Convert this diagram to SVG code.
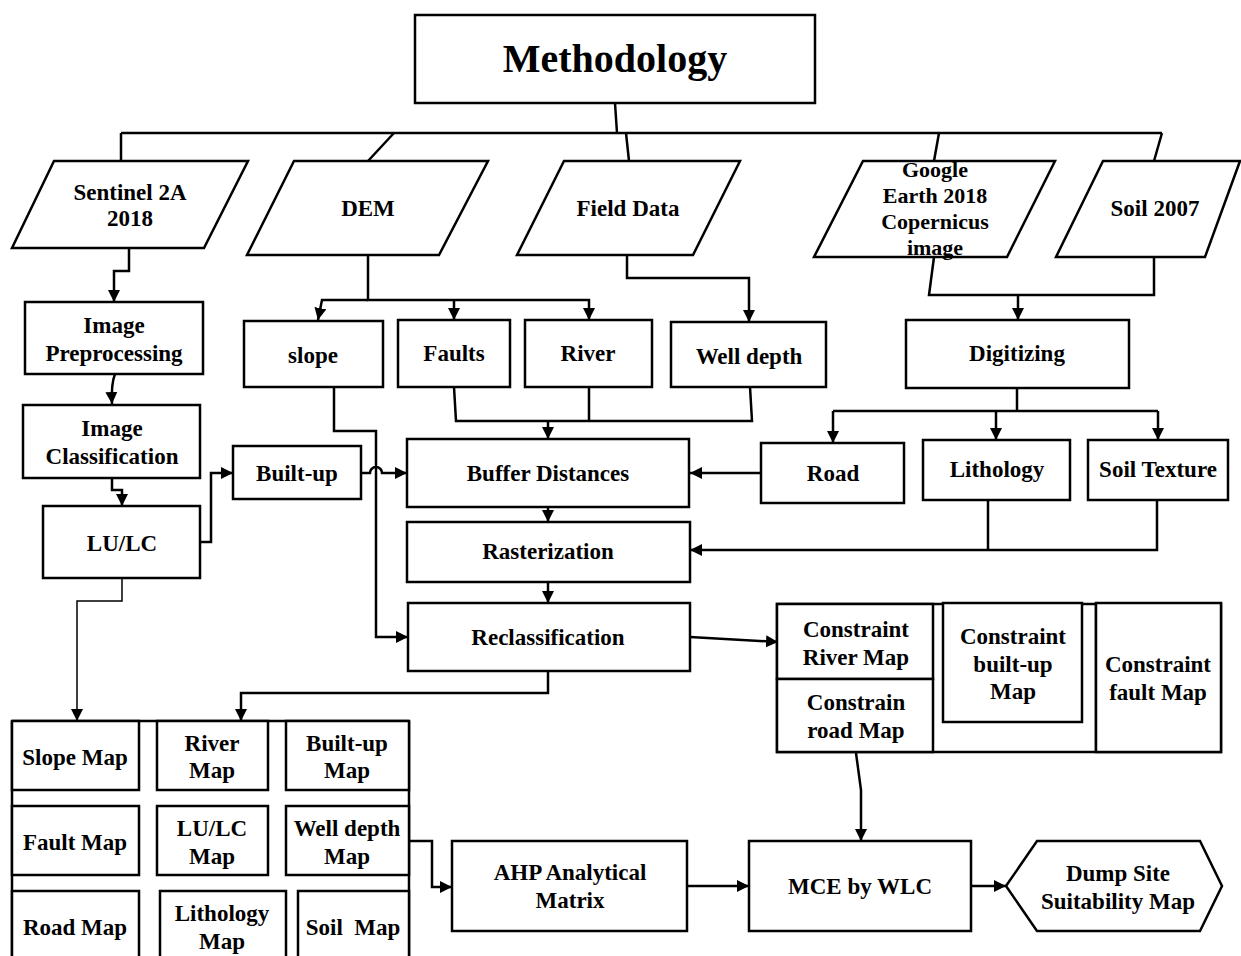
<svg xmlns="http://www.w3.org/2000/svg" width="1241" height="956" viewBox="0 0 1241 956">
<style>
.b{fill:#fff;stroke:#000;stroke-width:2.5}
.c{fill:none;stroke:#000;stroke-width:2.5}
.t{font-family:"Liberation Serif","Times New Roman",serif;font-weight:bold;font-size:23px;text-anchor:middle;fill:#000}
.s{font-size:22px}
</style>
<defs>
<marker id="a" markerWidth="13" markerHeight="13" refX="12" refY="6" orient="auto" markerUnits="userSpaceOnUse">
<path d="M0,0 L12,6 L0,12 z" fill="#000"/>
</marker>
</defs>
<rect width="1241" height="956" fill="#fff"/>
<g id="connectors">
<path class="c" d="M615,103 L617,133 M121,133 H1162 M121,133 V161 M394,133 L368,161 M626,133 L629,161 M939,133 L934,161 M1162,133 L1154,161"/>
<path class="c" d="M129,248 V271 H114 V302" marker-end="url(#a)"/>
<path class="c" d="M115,374 Q111,384 112,404" marker-end="url(#a)"/>
<path class="c" d="M112,478 V490 H122 V506" marker-end="url(#a)"/>
<path class="c" d="M200,542 H211 V473 H233" marker-end="url(#a)"/>
<path class="c" d="M361,473 H370 A6,6 0 0 1 382,473 H407" marker-end="url(#a)"/>
<path class="c" d="M368,255 V300 H589 V320" marker-end="url(#a)"/>
<path class="c" d="M368,300 H322 L318,320" marker-end="url(#a)"/>
<path class="c" d="M454,300 V320" marker-end="url(#a)"/>
<path class="c" d="M627,255 V278 H749 V322" marker-end="url(#a)"/>
<path class="c" d="M334,387 V431 H376 V637 H408" marker-end="url(#a)"/>
<path class="c" d="M454,387 L456,421 H752 L750,387 M589,387 V421"/>
<path class="c" d="M548,421 V439" marker-end="url(#a)"/>
<path class="c" d="M548,507 V522" marker-end="url(#a)"/>
<path class="c" d="M548,582 V603" marker-end="url(#a)"/>
<path class="c" d="M690,637 L778,642" marker-end="url(#a)"/>
<path class="c" d="M761,473 H690" marker-end="url(#a)"/>
<path class="c" d="M934,257 L929,295 H1154 V257"/>
<path class="c" d="M1018,295 V320" marker-end="url(#a)"/>
<path class="c" d="M1017,388 V411 M833,411 H1158"/>
<path class="c" d="M833,411 V443" marker-end="url(#a)"/>
<path class="c" d="M996,411 V440" marker-end="url(#a)"/>
<path class="c" d="M1158,411 V440" marker-end="url(#a)"/>
<path class="c" d="M988,500 V550 M1157,500 V550 H690" marker-end="url(#a)"/>
<path class="c" style="stroke-width:1.5" d="M122,578 V601 H77 V721" marker-end="url(#a)"/>
<path class="c" d="M548,671 V693 H241 V721" marker-end="url(#a)"/>
<path class="c" d="M856,753 L861,790 V841" marker-end="url(#a)"/>
<path class="c" d="M409,841 H432 V887 H452" marker-end="url(#a)"/>
<path class="c" d="M687,886 H749" marker-end="url(#a)"/>
<path class="c" d="M971,886 H1006" marker-end="url(#a)"/>
</g>
<g id="methodology"><rect class="b" x="415" y="15" width="400" height="88"/><text class="t" x="615" y="72" style="font-size:40px">Methodology</text></g>
<g id="sentinel"><polygon class="b" points="54,161 248,161 204,248 12,248"/><text class="t" x="130" y="200">Sentinel 2A</text><text class="t" x="130" y="226">2018</text></g>
<g id="dem"><polygon class="b" points="294,161 488,161 439,255 247,255"/><text class="t" x="368" y="216">DEM</text></g>
<g id="field"><polygon class="b" points="564,161 740,161 693,255 517,255"/><text class="t" x="628" y="216">Field Data</text></g>
<g id="google"><polygon class="b" points="863,161 1055,161 1007,257 814,257"/><text class="t s" x="935" y="177">Google</text><text class="t s" x="935" y="203">Earth 2018</text><text class="t s" x="935" y="229">Copernicus</text><text class="t s" x="935" y="255">image</text></g>
<g id="soil"><polygon class="b" points="1103,161 1240,161 1205,257 1056,257"/><text class="t" x="1155" y="216">Soil 2007</text></g>
<g id="preproc"><rect class="b" x="25" y="302" width="178" height="72"/><text class="t" x="114" y="333">Image</text><text class="t" x="114" y="361">Preprocessing</text></g>
<g id="classif"><rect class="b" x="23" y="405" width="177" height="73"/><text class="t" x="112" y="436">Image</text><text class="t" x="112" y="464">Classification</text></g>
<g id="lulc"><rect class="b" x="43" y="506" width="157" height="72"/><text class="t" x="122" y="551">LU/LC</text></g>
<g id="builtup"><rect class="b" x="233" y="446" width="128" height="53"/><text class="t" x="297" y="481">Built-up</text></g>
<g id="slope"><rect class="b" x="244" y="321" width="139" height="66"/><text class="t" x="313" y="363">slope</text></g>
<g id="faults"><rect class="b" x="398" y="320" width="112" height="67"/><text class="t" x="454" y="361">Faults</text></g>
<g id="river"><rect class="b" x="525" y="320" width="127" height="67"/><text class="t" x="588" y="361">River</text></g>
<g id="welldepth"><rect class="b" x="671" y="322" width="155" height="65"/><text class="t" x="749" y="364">Well depth</text></g>
<g id="digitizing"><rect class="b" x="906" y="320" width="223" height="68"/><text class="t" x="1017" y="361">Digitizing</text></g>
<g id="buffer"><rect class="b" x="407" y="439" width="282" height="68"/><text class="t" x="548" y="481">Buffer Distances</text></g>
<g id="road"><rect class="b" x="761" y="443" width="143" height="60"/><text class="t" x="833" y="481">Road</text></g>
<g id="lithology"><rect class="b" x="923" y="440" width="147" height="60"/><text class="t" x="997" y="477">Lithology</text></g>
<g id="soiltexture"><rect class="b" x="1088" y="440" width="140" height="60"/><text class="t" x="1158" y="477">Soil Texture</text></g>
<g id="raster"><rect class="b" x="407" y="522" width="283" height="60"/><text class="t" x="548" y="559">Rasterization</text></g>
<g id="reclass"><rect class="b" x="408" y="603" width="282" height="68"/><text class="t" x="548" y="645">Reclassification</text></g>
<g id="constraints"><rect class="b" x="777" y="604" width="444" height="148"/><line class="c" x1="1096" y1="604" x2="1096" y2="752"/></g>
<g id="c-river"><rect class="b" x="777" y="604" width="156" height="75"/><text class="t" x="856" y="637">Constraint</text><text class="t" x="856" y="665">River Map</text></g>
<g id="c-road"><rect class="b" x="777" y="679" width="156" height="73"/><text class="t" x="856" y="710">Constrain</text><text class="t" x="856" y="738">road Map</text></g>
<g id="c-builtup"><rect class="b" x="943" y="603" width="139" height="119"/><text class="t" x="1013" y="644">Constraint</text><text class="t" x="1013" y="672">built-up</text><text class="t" x="1013" y="699">Map</text></g>
<g id="c-fault"><rect class="b" x="1096" y="603" width="125" height="149"/><text class="t" x="1158" y="672">Constraint</text><text class="t" x="1158" y="700">fault Map</text></g>
<g id="maps"><path class="c" d="M12,721 V956 M409,721 V956 M12,721 H409"/></g>
<g id="slopemap"><rect class="b" x="12" y="721" width="127" height="69"/><text class="t" x="75" y="765">Slope Map</text></g>
<g id="rivermap"><rect class="b" x="157" y="721" width="111" height="69"/><text class="t" x="212" y="751">River</text><text class="t" x="212" y="778">Map</text></g>
<g id="builtupmap"><rect class="b" x="286" y="721" width="123" height="69"/><text class="t" x="347" y="751">Built-up</text><text class="t" x="347" y="778">Map</text></g>
<g id="faultmap"><rect class="b" x="12" y="806" width="127" height="69"/><text class="t" x="75" y="850">Fault Map</text></g>
<g id="lulcmap"><rect class="b" x="157" y="806" width="111" height="69"/><text class="t" x="212" y="836">LU/LC</text><text class="t" x="212" y="864">Map</text></g>
<g id="wellmap"><rect class="b" x="286" y="806" width="123" height="69"/><text class="t" x="347" y="836">Well depth</text><text class="t" x="347" y="864">Map</text></g>
<g id="roadmap"><rect class="b" x="12" y="891" width="127" height="70"/><text class="t" x="75" y="935">Road Map</text></g>
<g id="lithomap"><rect class="b" x="160" y="891" width="126" height="70"/><text class="t" x="222" y="921">Lithology</text><text class="t" x="222" y="949">Map</text></g>
<g id="soilmap"><rect class="b" x="298" y="891" width="111" height="70"/><text class="t" x="353" y="935" xml:space="preserve">Soil  Map</text></g>
<g id="ahp"><rect class="b" x="452" y="841" width="235" height="90"/><text class="t" x="570" y="880">AHP Analytical</text><text class="t" x="570" y="908">Matrix</text></g>
<g id="mce"><rect class="b" x="749" y="841" width="222" height="90"/><text class="t" x="860" y="894">MCE by WLC</text></g>
<g id="dump"><polygon class="b" points="1006,886 1037,841 1200,841 1222,886 1200,931 1037,931"/><text class="t" x="1118" y="881">Dump Site</text><text class="t" x="1118" y="909">Suitability Map</text></g>
</svg>
